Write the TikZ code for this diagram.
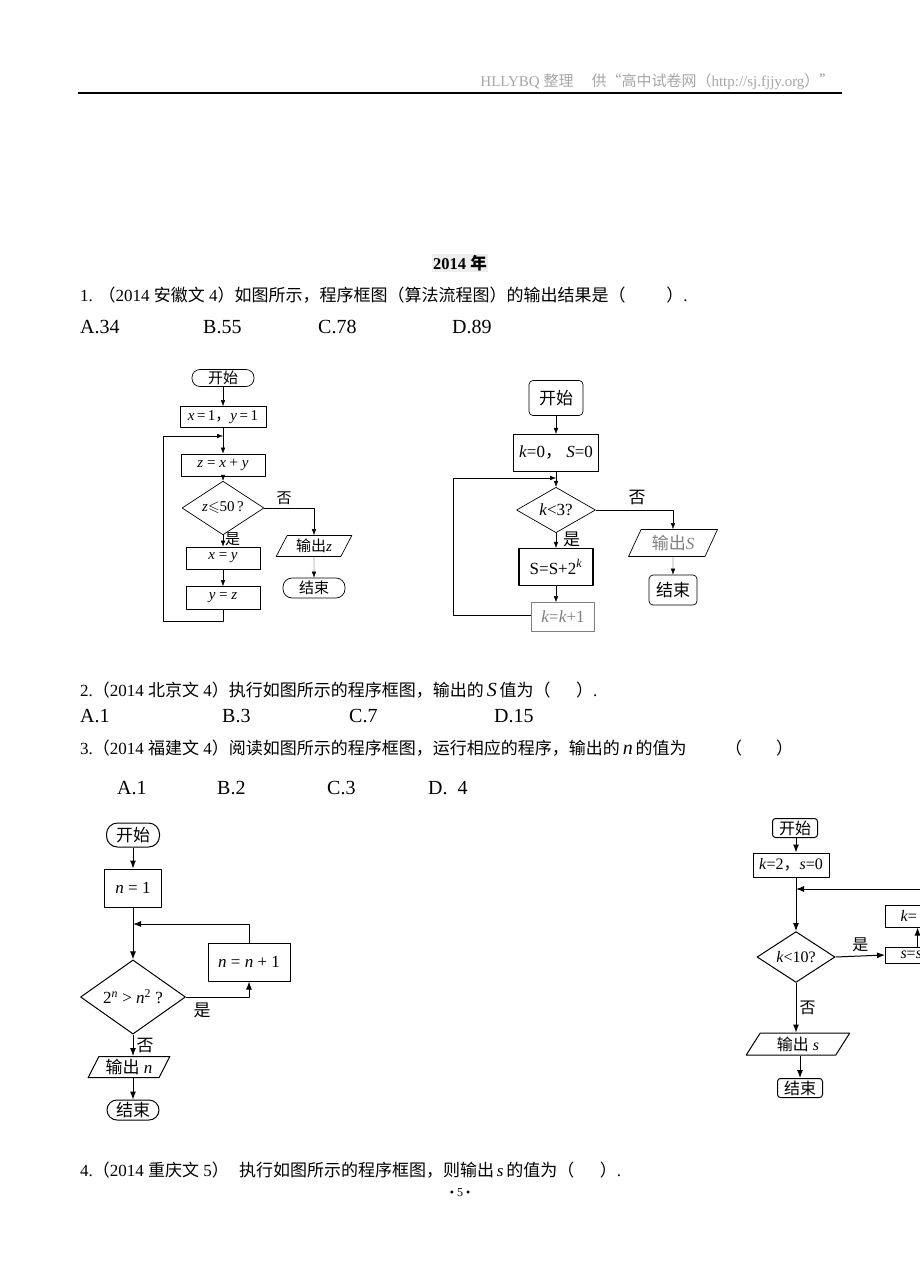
\documentclass[tikz,border=0pt]{standalone}
\usepackage{fontspec}
\usepackage{amssymb}
\setmainfont{Liberation Serif}
\newfontfamily\cjk{Noto Sans CJK SC}
\usetikzlibrary{shapes.geometric,arrows.meta}
\newcommand\zw[1]{{\cjk #1}}
\newcommand\vi[1]{\textit{#1}}
\begin{document}
\begin{tikzpicture}[x=1pt, y=-1pt, line join=round, >={Latex[length=6pt,width=4.5pt]},
  proc/.style={draw, line width=0.7pt, inner sep=0pt},
  term/.style={proc, rounded corners=#1},
  dia/.style={draw, line width=0.7pt, diamond, inner sep=0pt},
  para/.style={draw, line width=0.7pt, trapezium, trapezium stretches=true,
    trapezium left angle=62, trapezium right angle=118, inner sep=0pt},
  txt/.style={anchor=west, inner sep=0pt, font=\fontsize{17}{19}\selectfont},
  opt/.style={txt, font=\fontsize{20}{22}\selectfont},
  lab/.style={inner sep=0pt}]
\fill[white] (0,0) rectangle (920,1274);
\clip (0,0) rectangle (920,1274);
\node[anchor=east, text=gray!70, font=\fontsize{15}{17}\selectfont] (hdr) at (838,82)
  {HLLYBQ \zw{整理}\hspace{18pt}\zw{供“高中试卷网（}http://sj.fjjy.org\zw{）”}};
\draw[line width=1.2pt] (78,93) -- (842,93);
\node[fill=black!7, inner sep=1pt, font=\bfseries\fontsize{16.5}{18}\selectfont] (yr) at (460,263) {2014 \zw{年}};
\node[txt] (q1) at (80,295) {1. \zw{（}2014 \zw{安徽文} 4\zw{）如图所示，程序框图（算法流程图）的输出结果是（}\hspace{2.4em}\zw{）}.};
\foreach \t/\x [count=\i] in {A.34/80, B.55/203, C.78/318, D.89/452}
  \node[opt] (opa\i) at (\x,327) {\t};
% 2014 anhui
\begin{scope}[font=\fontsize{15}{17}\selectfont]
\node[term=8pt, minimum width=62, minimum height=17] (s1) at (223,378) {\zw{开始}};
\node[proc, minimum width=86, minimum height=21] (a1) at (223,417) {\vi{x}\,=\,1\zw{，}\vi{y}\,=\,1};
\node[proc, minimum width=84, minimum height=22] (a2) at (223,465) {\vi{z} = \vi{x} + \vi{y}};
\node[dia, minimum width=82, minimum height=29] (d1) at (223,508) {\vi{z}$\leqslant$50\,?};
\node[proc, minimum width=74, minimum height=22] (a3) at (223,558) {\vi{x} = \vi{y}};
\node[proc, minimum width=74, minimum height=23] (a4) at (223,598) {\vi{y} = \vi{z}};
\node[para, minimum width=76, minimum height=21] (o1) at (314,546) {\zw{输出}\vi{z}};
\node[term=9pt, minimum width=62, minimum height=20] (e1) at (314,588) {\zw{结束}};
\coordinate (m1) at (223,436);
\coordinate (l1) at (163,621);
\draw[->] (s1) -- (a1);
\draw (a1) -- (m1);
\draw[->] (m1) -- (a2);
\draw[->] (a2) -- (d1);
\draw[->] (d1) -- (a3) node[lab, pos=0.35, right=2pt] {\zw{是}};
\draw[->] (a3) -- (a4);
\draw[->] (d1.east) -| (o1.north);
\node[lab] (n1) at (284,498) {\zw{否}};
\draw[->] (o1) -- (e1);
\draw[->] (a4.south) |- (l1) |- (m1);
\end{scope}
% 2014 beijing
\begin{scope}[font=\fontsize{17}{19}\selectfont]
\node[term=4pt, minimum width=54, minimum height=35] (s2) at (556,398) {\zw{开始}};
\node[proc, line width=1.1pt, minimum width=85, minimum height=37] (b1) at (556,453) {\vi{k}=0\zw{，}\ \vi{S}=0};
\node[dia, minimum width=79, minimum height=41] (d2) at (556,510) {\vi{k}<3?};
\node[proc, line width=1.1pt, minimum width=74, minimum height=37] (b2) at (556,567) {S=S+2\textsuperscript{\vi{k}}};
\node[proc, draw=gray, text=gray, minimum width=63, minimum height=29] (b3) at (563,617) {\vi{k}=\vi{k}+1};
\node[para, text=gray, minimum width=89, minimum height=27] (o2) at (673,543) {\zw{输出}\vi{S}};
\node[term=4pt, minimum width=48, minimum height=30] (e2) at (673,590) {\zw{结束}};
\coordinate (m2) at (556,478);
\coordinate (l2) at (453,615);
\draw[->] (s2) -- (b1);
\draw (b1) -- (m2);
\draw[->] (m2) -- (d2);
\draw[->] (d2) -- (b2) node[lab, pos=0.4, right=7pt] {\zw{是}};
\draw[->] (b2.south) -- (b2.south |- b3.north);
\draw[->] (d2.east) -| (o2.north);
\node[lab] (n2) at (637,498) {\zw{否}};
\draw[->] (o2) -- (e2);
\draw[->] (b3.west |- l2) -- (l2) |- (m2);
\end{scope}
\node[txt] (q2) at (80,690) {2.\zw{（}2014 \zw{北京文} 4\zw{）执行如图所示的程序框图，输出的}\,{\fontsize{20}{22}\selectfont\vi{S}}\,\zw{值为（}\hspace{1.5em}\zw{）}.};
\foreach \t/\x [count=\i] in {A.1/80, B.3/222, C.7/349, D.15/494}
  \node[opt] (opb\i) at (\x,716) {\t};
\node[txt] (q3) at (80,748) {3.\zw{（}2014 \zw{福建文} 4\zw{）阅读如图所示的程序框图，运行相应的程序，输出的}\,{\fontsize{20}{22}\selectfont\vi{n}}\,\zw{的值为}};
\node[txt] (q3b) at (725,748) {\zw{（}\hspace{2em}\zw{）}};
\foreach \t/\x [count=\i] in {A.1/117, B.2/217, C.3/327, D.\ \ 4/428}
  \node[opt] (opc\i) at (\x,788) {\t};
% 2014 fujian
\begin{scope}[font=\fontsize{17}{19}\selectfont, line width=1pt, >={Latex[length=8pt,width=6pt]}]
\node[term=11pt, line width=1pt, minimum width=53, minimum height=24] (s3) at (133,835) {\zw{开始}};
\node[proc, line width=1pt, minimum width=57, minimum height=38] (c1) at (133,888) {\vi{n} = 1};
\node[dia, line width=1pt, minimum width=105, minimum height=63] (d3) at (133,997) {2\textsuperscript{\vi{n}} > \vi{n}\textsuperscript{2} ?};
\node[proc, line width=1pt, minimum width=82, minimum height=38] (c2) at (249,962) {\vi{n} = \vi{n} + 1};
\node[para, line width=1pt, minimum width=82, minimum height=21] (o3) at (129,1067) {\zw{输出} \vi{n}};
\node[term=10pt, line width=1pt, minimum width=52, minimum height=20] (e3) at (133,1110) {\zw{结束}};
\coordinate (m3) at (133,924);
\draw[->] (s3) -- (c1);
\draw[->] (c1) -- (d3);
\draw[->] (c2.north) |- (m3);
\draw[->] (d3.east) -| (c2.south);
\node[lab] (n3) at (202,1010) {\zw{是}};
\draw[->] (d3.south) -- (d3.south |- o3.north) node[lab, midway, right=3pt] {\zw{否}};
\draw[->] (e3.north |- o3.south) -- (e3.north);
\end{scope}
% 2014 chongqing
\begin{scope}[font=\fontsize{16}{18}\selectfont, line width=1pt, >={Latex[length=8pt,width=6pt]}]
\node[term=3pt, line width=1pt, minimum width=45, minimum height=19] (s4) at (795,828) {\zw{开始}};
\node[proc, line width=1pt, minimum width=76, minimum height=24] (f1) at (791,865) {\vi{k}=2\zw{，}\vi{s}=0};
\node[dia, line width=1pt, minimum width=78, minimum height=33] (d4) at (796,957) {\vi{k}<10?};
\node[proc, line width=1pt, anchor=west, minimum width=70, minimum height=22, text width=40, align=left] (f2) at (885,916) {\vi{k}=};
\node[proc, line width=1pt, anchor=west, minimum width=70, minimum height=16, text width=40, align=left] (f3) at (885,955) {\vi{s}=\vi{s}};
\node[para, line width=1pt, minimum width=104, minimum height=22] (o4) at (798,1044) {\zw{输出} \vi{s}};
\node[term=3pt, line width=1pt, minimum width=45, minimum height=19] (e4) at (800,1088) {\zw{结束}};
\coordinate (m4) at (796,889);
\coordinate (r4) at (935,889);
\draw[->] (s4.south -| m4) -- (f1.north -| m4);
\draw (f1.south -| m4) -- (m4);
\draw[->] (m4) -- (d4);
\draw[->] (r4) -- (m4);
\draw[->] (d4.east) -- (f3.west) node[lab, midway, above=4pt] {\zw{是}};
\draw[->] ([xshift=-3pt]f3.north) -- ([xshift=-3pt]f2.south);
\draw[->] (d4.south) -- (d4.south |- o4.north) node[lab, midway, right=3pt] {\zw{否}};
\draw[->] (e4.north |- o4.south) -- (e4.north);
\end{scope}
\node[txt] (q4) at (80,1170) {4.\zw{（}2014 \zw{重庆文} 5\zw{）}\hspace{0.6em}\zw{执行如图所示的程序框图，则输出}\,\vi{s}\,\zw{的值为（}\hspace{1.5em}\zw{）}.};
\node[font=\fontsize{12}{14}\selectfont] (pg) at (460,1193) {• 5 •};
\end{tikzpicture}
\end{document}
